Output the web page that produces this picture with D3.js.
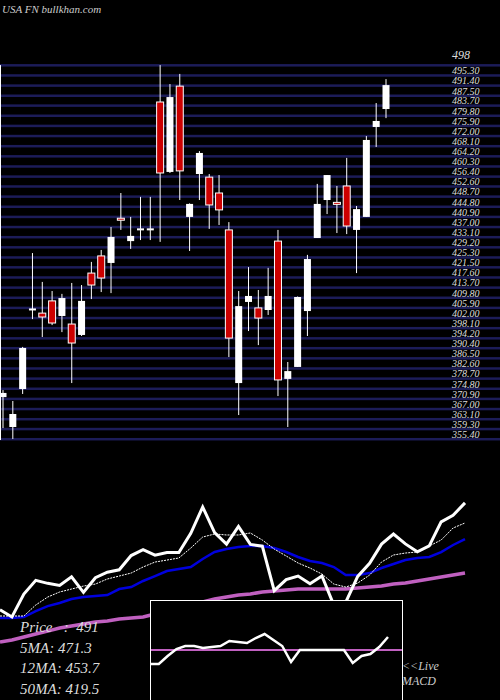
<!DOCTYPE html>
<html><head><meta charset="utf-8">
<script src="https://cdn.jsdelivr.net/npm/d3@7"></script>
<style>body{margin:0;background:#000}svg{display:block}</style>
</head><body>
<script>
const opens  = [371.5,360.0,374.6,405.2,403.8,408.5,402.7,399.6,395.4,419.2,425.8,423.1,440.3,431.5,436.0,436.0,485.0,458.1,491.1,440.8,457.3,456.1,450.0,435.8,376.9,408.1,405.8,405.0,431.5,378.5,383.1,404.6,432.7,447.3,446.4,452.7,435.8,440.8,475.4,482.3];
const closes = [373.1,365.0,390.4,405.6,402.3,400.0,409.6,392.3,408.5,414.6,417.3,433.1,439.7,433.5,436.4,436.4,457.7,486.9,458.5,445.8,465.4,445.4,443.5,394.2,406.5,410.4,401.9,410.4,378.1,381.5,410.0,424.6,445.8,456.9,446.0,437.3,443.8,470.4,477.7,491.5];
const highs  = [374.2,370.0,390.8,426.9,415.8,412.3,411.2,415.4,414.6,423.5,428.1,436.9,450.0,440.8,448.5,448.5,499.2,491.9,495.8,446.0,466.1,457.3,456.9,438.8,412.3,421.5,412.7,421.2,435.8,385.0,410.2,426.2,453.5,456.9,452.7,463.5,445.0,471.9,484.6,493.8];
const lows   = [359.6,355.4,372.7,401.5,394.6,399.2,396.5,376.9,395.0,409.2,411.9,411.5,435.8,428.5,431.9,431.9,431.2,457.7,447.3,427.7,447.3,436.2,437.7,386.9,364.6,396.9,391.5,403.1,371.9,360.0,383.1,395.0,432.7,441.9,434.6,434.2,419.2,440.8,467.7,478.8];
const ma5  = [366.1,366.1,366.1,378.3,387.1,392.7,396.0,399.3,401.5,407.1,410.4,413.7,420.4,425.9,428.1,430.4,441.4,453.6,457.0,455.9,455.9,458.1,450.3,440.3,432.6,424.8,419.3,412.6,401.5,398.2,402.6,411.5,425.9,433.7,435.9,437.0,443.7,450.3,463.6,469.2];
const ma12 = [363.8,363.8,365.0,371.6,377.1,380.5,384.9,387.1,388.2,389.3,396.0,398.2,404.9,410.4,415.9,418.2,420.4,429.3,437.0,440.3,442.6,443.7,443.7,441.4,437.0,431.5,427.0,424.8,420.4,411.5,411.5,413.7,419.3,423.7,428.1,430.4,431.5,437.0,444.8,451.4];
const ma50 = [337.2,339.5,342.8,346.1,349.4,352.8,355.0,357.2,359.4,360.5,362.7,363.8,365.0,368.3,371.6,374.9,378.3,381.6,384.9,387.1,389.3,390.5,392.7,393.8,394.9,396.0,396.0,396.0,396.0,396.0,397.1,398.2,399.3,401.5,402.6,404.9,407.1,409.3,411.5,413.7];
const macd = [-14,-14,-6,1,4,4,2,3,4,9,8,7,12,16,10,4,-12,0,0,0,0,0,0,-13,-6,-4,3,13];
const tickVals = [499.2,495.3,491.4,487.5,483.7,479.8,475.9,472.0,468.1,464.2,460.3,456.4,452.6,448.7,444.8,440.9,437.0,433.1,429.2,425.3,421.5,417.6,413.7,409.8,405.9,402.0,398.1,394.2,390.4,386.5,382.6,378.7,374.8,370.9,367.0,363.1,359.3,355.4];
const legend = [["Price",":  491"],["5MA",": 471.3"],["12MA",": 453.7"],["50MA",": 419.5"]];

const W=500,H=700;
const svg=d3.select("body").append("svg").attr("width",W).attr("height",H).style("background","#000");
const font="'Liberation Serif','DejaVu Serif',serif";

const y=d3.scaleLinear().domain([355,505]).range([440,50]);
const x=d3.scaleLinear().domain([0,39]).range([3,386]);

svg.selectAll(".g").data(tickVals).enter().append("rect")
  .attr("x",0).attr("width",W).attr("y",d=>y(d)-1).attr("height",2.5).attr("fill","#1c1c58");
svg.selectAll(".tl").data(tickVals.slice(1)).enter().append("text")
  .attr("x",452).attr("y",d=>y(d)-1).text(d=>d.toFixed(2))
  .attr("fill","#ddd").attr("font-family",font).attr("font-style","italic").attr("font-size",10);
svg.append("text").attr("x",452).attr("y",59).text("498").attr("fill","#ddd")
  .attr("font-family",font).attr("font-style","italic").attr("font-size",12);
svg.append("line").attr("x1",0.5).attr("x2",0.5).attr("y1",y(tickVals[0])).attr("y2",440).attr("stroke","#fff");
svg.append("text").attr("x",2).attr("y",13).text("USA FN bullkhan.com").attr("fill","#ccc")
  .attr("font-family",font).attr("font-style","italic").attr("font-size",11);

const idx=d3.range(opens.length);
const g=svg.append("g");
idx.forEach(i=>{
  const cx=x(i), up=closes[i]>=opens[i];
  g.append("line").attr("x1",cx).attr("x2",cx).attr("y1",y(highs[i])).attr("y2",y(lows[i])).attr("stroke","#fff").attr("stroke-width",1);
  const top=y(Math.max(opens[i],closes[i])), bot=y(Math.min(opens[i],closes[i]));
  const h=Math.max(bot-top,2);
  g.append("rect").attr("x",cx-3.5).attr("width",7).attr("y",top).attr("height",h)
   .attr("fill",up?"#fff":"#cc0000").attr("stroke","#fff").attr("stroke-width",up?0:1);
});

const x2=d3.scaleLinear().domain([0,39]).range([0,465]);
const y2=d3.scaleLinear().domain([486.9,365]).range([507,617]);
const ln=a=>d3.line().x((d,i)=>x2(i)).y(d=>y2(d))(a);
svg.append("path").attr("d",ln(ma50)).attr("fill","none").attr("stroke","#c060c0").attr("stroke-width",3.5);
svg.append("path").attr("d",ln(ma12)).attr("fill","none").attr("stroke","#0000dd").attr("stroke-width",2.5);
svg.append("path").attr("d",ln(ma5)).attr("fill","none").attr("stroke","#fff").attr("stroke-width",1).attr("stroke-dasharray","2,1");
svg.append("path").attr("d",ln(closes)).attr("fill","none").attr("stroke","#fff").attr("stroke-width",3);

svg.append("rect").attr("x",150.5).attr("y",600.5).attr("width",252).attr("height",105).attr("fill","#000").attr("stroke","#fff");
const xm=d3.scaleLinear().domain([0,macd.length-1]).range([150,388]);
const ym=d3.scaleLinear().domain([-50,50]).range([700,600]);
svg.append("line").attr("x1",151).attr("x2",402).attr("y1",ym(0)).attr("y2",ym(0)).attr("stroke","#c060c0").attr("stroke-width",2);
svg.append("path").attr("d",d3.line().x((d,i)=>xm(i)).y(d=>ym(d))(macd)).attr("fill","none").attr("stroke","#fff").attr("stroke-width",2.5);
svg.append("text").attr("x",402).attr("y",670).text("<<Live").attr("fill","#ccc").attr("font-family",font).attr("font-style","italic").attr("font-size",12);
svg.append("text").attr("x",402).attr("y",685).text("MACD").attr("fill","#ccc").attr("font-family",font).attr("font-style","italic").attr("font-size",12);

legend.forEach((l,i)=>{
  svg.append("text").attr("x",20).attr("y",632+i*20.5).attr("fill","#ddd")
   .attr("font-family",font).attr("font-style","italic").attr("font-size",15)
   .style("white-space","pre")
   .text(l[0]+(i==0?"   ":"")+l[1]);
});
</script>
</body></html>
